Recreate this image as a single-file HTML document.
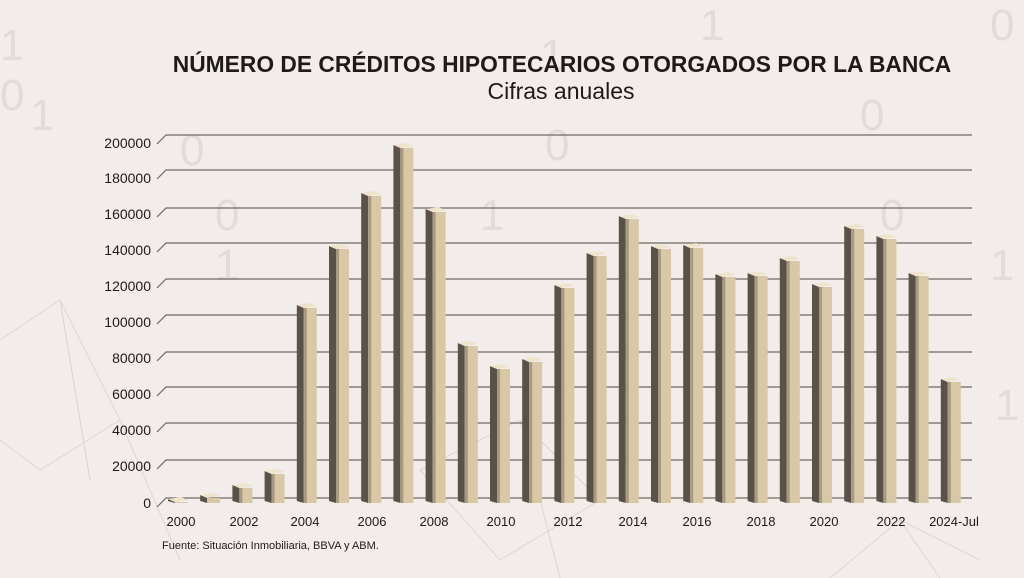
<!DOCTYPE html>
<html><head><meta charset="utf-8"><style>
html,body{margin:0;padding:0;width:1024px;height:578px;overflow:hidden;background:#f2edea;}
svg{display:block}
</style></head><body>
<svg width="1024" height="578" xmlns="http://www.w3.org/2000/svg" font-family="Liberation Sans, sans-serif">
<defs>
<g id="cap"><polygon points="0,2 13,0 20,3 7,5" fill="#efe3cc"/></g>
</defs>
<rect width="1024" height="578" fill="#f2edea"/>
<g fill="#e2dcd8" font-size="44" font-family="Liberation Sans, sans-serif">
<text x="0" y="60">1</text><text x="0" y="110">0</text><text x="30" y="130">1</text>
<text x="180" y="165">0</text><text x="215" y="230">0</text><text x="215" y="280">1</text>
<text x="540" y="70">1</text><text x="545" y="160">0</text><text x="700" y="40">1</text>
<text x="860" y="130">0</text><text x="880" y="230">0</text><text x="990" y="40">0</text>
<text x="990" y="280">1</text><text x="995" y="420">1</text><text x="480" y="230">1</text>
</g>
<g stroke="#ddd6d2" stroke-width="1" fill="none">
<path d="M0 340 L60 300 L120 420 L40 470 L0 440 M60 300 L90 480 M120 420 L180 560"/>
<path d="M420 470 L520 420 L600 500 L500 560 Z M520 420 L560 578"/>
<path d="M830 578 L900 520 L980 560 M900 520 L940 578"/>
</g>
<text x="562" y="72" text-anchor="middle" font-size="22.8" font-weight="bold" fill="#1f1a17">NÚMERO DE CRÉDITOS HIPOTECARIOS OTORGADOS POR LA BANCA</text>
<text x="561" y="99" text-anchor="middle" font-size="23" fill="#1f1a17">Cifras anuales</text>
<g stroke="#6e6863" stroke-width="1.2" fill="none">
<path d="M157 507 L166 498 H972"/>
<path d="M157 469 L166 460 H972"/>
<path d="M157 432 L166 423 H972"/>
<path d="M157 396 L166 387 H972"/>
<path d="M157 361 L166 352 H972"/>
<path d="M157 324 L166 315 H972"/>
<path d="M157 288 L166 279 H972"/>
<path d="M157 252 L166 243 H972"/>
<path d="M157 217 L166 208 H972"/>
<path d="M157 179 L166 170 H972"/>
<path d="M157 144 L166 135 H972"/>
</g>
<g font-size="14" fill="#1f1a17" text-anchor="end">
<text x="151" y="508">0</text><text x="151" y="471">20000</text><text x="151" y="435">40000</text>
<text x="151" y="399">60000</text><text x="151" y="363">80000</text><text x="151" y="327">100000</text>
<text x="151" y="291">120000</text><text x="151" y="255">140000</text><text x="151" y="219">160000</text>
<text x="151" y="183">180000</text><text x="151" y="148">200000</text>
</g>
<g>
<g transform="translate(168,497)"><polygon points="0,2 7,5 7,6 0,4" fill="#5a5249"/><rect x="7" y="5" width="13" height="1" fill="#d9c8a6"/><use href="#cap"/></g>
<g transform="translate(200.2,493)"><polygon points="0,2 7,5 7,10 0,8" fill="#5a5249"/><rect x="7" y="5" width="13" height="5" fill="#d9c8a6"/><use href="#cap"/></g>
<g transform="translate(232.4,483)"><polygon points="0,2 7,5 7,20 0,18" fill="#5a5249"/><rect x="7" y="5" width="13" height="15" fill="#d9c8a6"/><rect x="7" y="5" width="3" height="15" fill="#a89a80"/><use href="#cap"/></g>
<g transform="translate(264.6,469)"><polygon points="0,2 7,5 7,34 0,32" fill="#5a5249"/><rect x="7" y="5" width="13" height="29" fill="#d9c8a6"/><rect x="7" y="5" width="3" height="29" fill="#a89a80"/><use href="#cap"/></g>
<g transform="translate(296.8,303)"><polygon points="0,2 7,5 7,200 0,198" fill="#5a5249"/><rect x="7" y="5" width="13" height="195" fill="#d9c8a6"/><rect x="7" y="5" width="3" height="195" fill="#a89a80"/><use href="#cap"/></g>
<g transform="translate(329,244)"><polygon points="0,2 7,5 7,259 0,257" fill="#5a5249"/><rect x="7" y="5" width="13" height="254" fill="#d9c8a6"/><rect x="7" y="5" width="3" height="254" fill="#a89a80"/><use href="#cap"/></g>
<g transform="translate(361.2,191)"><polygon points="0,2 7,5 7,312 0,310" fill="#5a5249"/><rect x="7" y="5" width="13" height="307" fill="#d9c8a6"/><rect x="7" y="5" width="3" height="307" fill="#a89a80"/><use href="#cap"/></g>
<g transform="translate(393.4,143)"><polygon points="0,2 7,5 7,360 0,358" fill="#5a5249"/><rect x="7" y="5" width="13" height="355" fill="#d9c8a6"/><rect x="7" y="5" width="3" height="355" fill="#a89a80"/><use href="#cap"/></g>
<g transform="translate(425.6,207)"><polygon points="0,2 7,5 7,296 0,294" fill="#5a5249"/><rect x="7" y="5" width="13" height="291" fill="#d9c8a6"/><rect x="7" y="5" width="3" height="291" fill="#a89a80"/><use href="#cap"/></g>
<g transform="translate(457.8,341)"><polygon points="0,2 7,5 7,162 0,160" fill="#5a5249"/><rect x="7" y="5" width="13" height="157" fill="#d9c8a6"/><rect x="7" y="5" width="3" height="157" fill="#a89a80"/><use href="#cap"/></g>
<g transform="translate(490,364)"><polygon points="0,2 7,5 7,139 0,137" fill="#5a5249"/><rect x="7" y="5" width="13" height="134" fill="#d9c8a6"/><rect x="7" y="5" width="3" height="134" fill="#a89a80"/><use href="#cap"/></g>
<g transform="translate(522.2,357)"><polygon points="0,2 7,5 7,146 0,144" fill="#5a5249"/><rect x="7" y="5" width="13" height="141" fill="#d9c8a6"/><rect x="7" y="5" width="3" height="141" fill="#a89a80"/><use href="#cap"/></g>
<g transform="translate(554.4,283)"><polygon points="0,2 7,5 7,220 0,218" fill="#5a5249"/><rect x="7" y="5" width="13" height="215" fill="#d9c8a6"/><rect x="7" y="5" width="3" height="215" fill="#a89a80"/><use href="#cap"/></g>
<g transform="translate(586.6,251)"><polygon points="0,2 7,5 7,252 0,250" fill="#5a5249"/><rect x="7" y="5" width="13" height="247" fill="#d9c8a6"/><rect x="7" y="5" width="3" height="247" fill="#a89a80"/><use href="#cap"/></g>
<g transform="translate(618.8,214)"><polygon points="0,2 7,5 7,289 0,287" fill="#5a5249"/><rect x="7" y="5" width="13" height="284" fill="#d9c8a6"/><rect x="7" y="5" width="3" height="284" fill="#a89a80"/><use href="#cap"/></g>
<g transform="translate(651,244)"><polygon points="0,2 7,5 7,259 0,257" fill="#5a5249"/><rect x="7" y="5" width="13" height="254" fill="#d9c8a6"/><rect x="7" y="5" width="3" height="254" fill="#a89a80"/><use href="#cap"/></g>
<g transform="translate(683.2,243)"><polygon points="0,2 7,5 7,260 0,258" fill="#5a5249"/><rect x="7" y="5" width="13" height="255" fill="#d9c8a6"/><rect x="7" y="5" width="3" height="255" fill="#a89a80"/><use href="#cap"/></g>
<g transform="translate(715.4,272)"><polygon points="0,2 7,5 7,231 0,229" fill="#5a5249"/><rect x="7" y="5" width="13" height="226" fill="#d9c8a6"/><rect x="7" y="5" width="3" height="226" fill="#a89a80"/><use href="#cap"/></g>
<g transform="translate(747.6,271)"><polygon points="0,2 7,5 7,232 0,230" fill="#5a5249"/><rect x="7" y="5" width="13" height="227" fill="#d9c8a6"/><rect x="7" y="5" width="3" height="227" fill="#a89a80"/><use href="#cap"/></g>
<g transform="translate(779.8,256)"><polygon points="0,2 7,5 7,247 0,245" fill="#5a5249"/><rect x="7" y="5" width="13" height="242" fill="#d9c8a6"/><rect x="7" y="5" width="3" height="242" fill="#a89a80"/><use href="#cap"/></g>
<g transform="translate(812,282)"><polygon points="0,2 7,5 7,221 0,219" fill="#5a5249"/><rect x="7" y="5" width="13" height="216" fill="#d9c8a6"/><rect x="7" y="5" width="3" height="216" fill="#a89a80"/><use href="#cap"/></g>
<g transform="translate(844.2,224)"><polygon points="0,2 7,5 7,279 0,277" fill="#5a5249"/><rect x="7" y="5" width="13" height="274" fill="#d9c8a6"/><rect x="7" y="5" width="3" height="274" fill="#a89a80"/><use href="#cap"/></g>
<g transform="translate(876.4,234)"><polygon points="0,2 7,5 7,269 0,267" fill="#5a5249"/><rect x="7" y="5" width="13" height="264" fill="#d9c8a6"/><rect x="7" y="5" width="3" height="264" fill="#a89a80"/><use href="#cap"/></g>
<g transform="translate(908.6,271)"><polygon points="0,2 7,5 7,232 0,230" fill="#5a5249"/><rect x="7" y="5" width="13" height="227" fill="#d9c8a6"/><rect x="7" y="5" width="3" height="227" fill="#a89a80"/><use href="#cap"/></g>
<g transform="translate(940.8,377)"><polygon points="0,2 7,5 7,126 0,124" fill="#5a5249"/><rect x="7" y="5" width="13" height="121" fill="#d9c8a6"/><rect x="7" y="5" width="3" height="121" fill="#a89a80"/><use href="#cap"/></g>
</g>
<g font-size="13" fill="#1f1a17" text-anchor="middle">
<text x="181" y="526">2000</text><text x="244" y="526">2002</text><text x="305" y="526">2004</text>
<text x="372" y="526">2006</text><text x="434" y="526">2008</text><text x="501" y="526">2010</text>
<text x="568" y="526">2012</text><text x="633" y="526">2014</text><text x="697" y="526">2016</text>
<text x="761" y="526">2018</text><text x="824" y="526">2020</text><text x="891" y="526">2022</text>
<text x="954" y="526">2024-Jul</text>
</g>
<text x="162" y="549" font-size="11" fill="#1f1a17">Fuente: Situación Inmobiliaria, BBVA y ABM.</text>
</svg>
</body></html>
